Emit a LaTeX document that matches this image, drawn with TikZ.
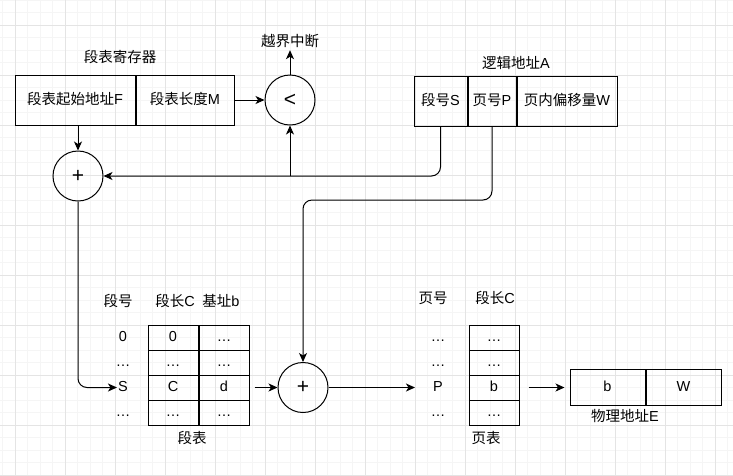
\documentclass[tikz,border=0pt]{standalone}
\usepackage{fontspec}
\setmainfont{Liberation Sans}
\newfontfamily\zhfont{Noto Sans CJK SC}
\newcommand{\zh}[1]{{\zhfont #1}}
\usetikzlibrary{arrows.meta, positioning}
\definecolor{GridMajor}{RGB}{228,228,228}
\definecolor{GridMinor}{RGB}{245,245,245}
\tikzset{
  cell/.style={draw, line width=1pt, minimum height=25pt, minimum width=50pt, inner sep=0pt,
    text height=11pt, text depth=3pt, font=\fontsize{14.5}{16}\selectfont},
  opcircle/.style={draw, circle, line width=1pt, minimum size=50pt, inner sep=0pt,
    font=\fontsize{21}{22}\selectfont},
  lbl/.style={inner sep=1pt, text height=11pt, text depth=3pt, font=\fontsize{14.5}{16}\selectfont},
  flow/.style={line width=1pt, -{Stealth[length=9pt, width=8pt, inset=2.5pt]}}
}

\begin{document}
\begin{tikzpicture}[x=1pt, y=-1pt]
\useasboundingbox (0,0) rectangle (733,475);
% background grid
\foreach \gx in {2.5,15,...,732.5} \draw[GridMinor, line width=0.8pt] (\gx,0) -- (\gx,475);
\foreach \gy in {0,12.5,...,475} \draw[GridMinor, line width=0.8pt] (0,\gy) -- (733,\gy);
\foreach \gx in {15,65,...,715} \draw[GridMajor, line width=0.8pt] (\gx,0) -- (\gx,475);
\foreach \gy in {25,75,...,475} \draw[GridMajor, line width=0.8pt] (0,\gy) -- (733,\gy);

% segment table register
\node[cell, minimum width=120pt, minimum height=50pt] (regF) at (75,100) {\zh{段表起始地址}F};
\node[cell, minimum width=98pt, minimum height=50pt, right=0pt of regF] (regM) {\zh{段表长度}M};
\node[lbl] (regLbl) at (120,58) {\zh{段表寄存器}};

% comparator and adders
\node[opcircle] (cmp) at (290,100) {<};
\node[lbl] (intr) at (290,42) {\zh{越界中断}};
\node[opcircle] (plus1) at (78,176) {+};
\node[opcircle] (plus2) at (303,387.5) {+};

% logical address
\node[cell, minimum width=53pt, minimum height=50pt] (laS) at (440.5,101) {\zh{段号}S};
\node[cell, minimum width=48pt, minimum height=50pt, right=0pt of laS] (laP) {\zh{页号}P};
\node[cell, minimum width=100pt, minimum height=50pt, right=0pt of laP] (laW) {\zh{页内偏移量}W};
\node[lbl] (laLbl) at (516,64) {\zh{逻辑地址}A};

% segment table
\node[lbl] (segHdNo) at (118,302) {\zh{段号}};
\node[lbl] (segHdLen) at (175,302) {\zh{段长}C};
\node[lbl] (segHdBase) at (221,302) {\zh{基址}b};
\foreach \r/\no/\len/\base in {1/0/0/\ldots, 2/\ldots/\ldots/\ldots, 3/S/C/d, 4/\ldots/\ldots/\ldots} {
  \node[lbl] (segNo\r) at (123,{312.5+25*\r}) {\no};
  \node[cell] (segC\r) at (173,{312.5+25*\r}) {\len};
  \node[cell, right=0pt of segC\r] (segB\r) {\base};
}
\node[lbl] (segLbl) at (192,439) {\zh{段表}};

% page table
\node[lbl] (pgHdNo) at (433,299) {\zh{页号}};
\node[lbl] (pgHdLen) at (495,299) {\zh{段长}C};
\foreach \r/\no/\val in {1/\ldots/\ldots, 2/\ldots/\ldots, 3/P/b, 4/\ldots/\ldots} {
  \node[lbl] (pgNo\r) at (438,{312.5+25*\r}) {\no};
  \node[cell] (pg\r) at (494,{312.5+25*\r}) {\val};
}
\node[lbl] (pgLbl) at (486,439) {\zh{页表}};

% physical address
\node[cell, minimum width=75pt, minimum height=36pt] (phB) at (607.5,387.5) {b};
\node[cell, minimum width=75pt, minimum height=36pt, right=0pt of phB] (phW) {W};
\node[lbl] (phLbl) at (625,417) {\zh{物理地址}E};

% connectors
\coordinate (pTurn) at (400,200);
\draw[flow] (regM.east) -- (cmp.west);
\draw[flow] (cmp.north) -- (intr.south);
\draw[flow] (regF.south -| plus1.north) -- (plus1.north);
\draw[flow, rounded corners=9pt] (laS.south) |- (plus1.east);
\draw[flow] (cmp |- plus1.east) -- (cmp.south);
\draw[flow, rounded corners=9pt] (laP.south) |- (pTurn) -| (plus2.north);
\draw[flow, rounded corners=9pt] (plus1.south) |- (segNo3.west);
\draw[flow, shorten <=5pt] (segB3.east) -- (plus2.west);
\draw[flow, shorten >=17pt] (plus2.east) -- (pgNo3.west);
\draw[flow, shorten <=9pt, shorten >=5pt] (pg3.east) -- (phB.west);
\end{tikzpicture}
\end{document}
